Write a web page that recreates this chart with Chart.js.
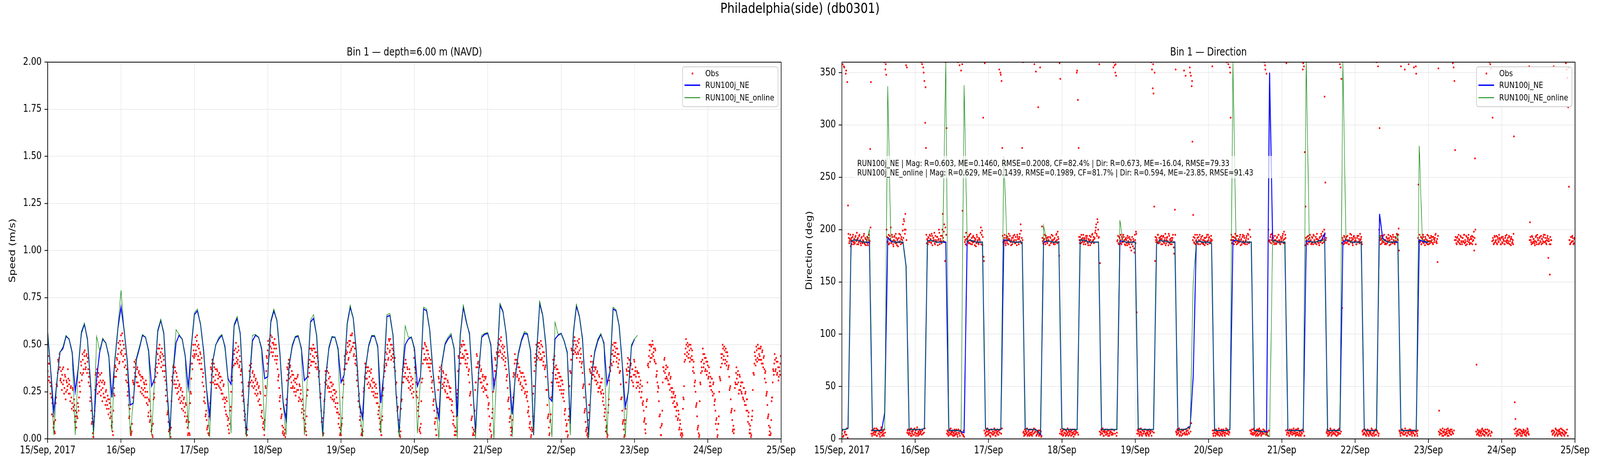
<!DOCTYPE html>
<html>
<head>
<meta charset="utf-8">
<script src="https://cdn.jsdelivr.net/npm/chart.js@4.4.1/dist/chart.umd.min.js"></script>
<style>
  html, body { margin: 0; background: #fff; overflow: hidden; }
  #page { position: absolute; left: 0; top: 0; width: 5000px; height: 1200px; transform-origin: 0 0; }
  #sup { position: absolute; left: 0; top: 0; width: 5000px; text-align: center; font: 36px/42px 'DejaVu Sans', sans-serif; color: #000; z-index: 2; }
  canvas { position: absolute; top: 0; }
</style>
</head>
<body>
<div id="page">
  <div id="sup">Philadelphia(side) (db0301)</div>
  <canvas id="speed" width="2500" height="1200" style="left:0;width:2500px;height:1200px"></canvas>
  <canvas id="dir" width="2500" height="1200" style="left:2500px;width:2500px;height:1200px"></canvas>
</div>
<script>
const FONT = "'DejaVu Sans', sans-serif";

// hours since 15/Sep 00:00 -> one label per day
const dayLabels = ['15/Sep, 2017', '16/Sep', '17/Sep', '18/Sep', '19/Sep', '20/Sep', '21/Sep', '22/Sep', '23/Sep', '24/Sep', '25/Sep'];
const speedTicks = [0, 0.25, 0.5, 0.75, 1, 1.25, 1.5, 1.75, 2];
const dirTicks = [0, 50, 100, 150, 200, 250, 300, 350];

const statsLines = [
  'RUN100j_NE | Mag: R=0.603, ME=0.1460, RMSE=0.2008, CF=82.4% | Dir: R=0.673, ME=-16.04, RMSE=79.33',
  'RUN100j_NE_online | Mag: R=0.629, ME=0.1439, RMSE=0.1989, CF=81.7% | Dir: R=0.594, ME=-23.85, RMSE=91.43',
];

// observed speed (m/s), every 15 min from 15/Sep 00:00
const obsSpeed = [
  0.36,0.40,0.33,0.30, 0.28,0.22,0.19,0.12, 0.08,0.04,0.10,0.22, 0.29,0.35,0.41,0.43,
  0.38,0.32,0.30,0.34, 0.29,0.31,0.27,0.33, 0.25,0.30,0.28,0.32, 0.29,0.24,0.27,0.22,
  0.19,0.26,0.15,0.18, 0.12,0.09,0.14,0.11, 0.17,0.22,0.28,0.35, 0.39,0.34,0.42,0.37,
  0.44,0.40,0.38,0.45, 0.41,0.37,0.33,0.28, 0.22,0.15,0.09,0.03, 0.01,0.12,0.26,0.35,
  0.31,0.29,0.33,0.30, 0.28,0.31,0.26,0.30, 0.27,0.24,0.29,0.22, 0.25,0.20,0.18,0.21,
  0.16,0.19,0.14,0.12, 0.06,0.04,0.15,0.27, 0.33,0.38,0.36,0.42, 0.45,0.48,0.41,0.50,
  0.55,0.47,0.52,0.44, 0.48,0.42,0.39,0.34, 0.30,0.25,0.18,0.12, 0.06,0.02,0.04,0.22,
  0.30,0.38,0.35,0.40, 0.33,0.37,0.30,0.35, 0.28,0.34,0.31,0.27, 0.33,0.26,0.30,0.27,
  0.25,0.29,0.22,0.18, 0.14,0.20,0.10,0.12, 0.05,0.02,0.08,0.24, 0.30,0.36,0.40,0.38,
  0.45,0.42,0.48,0.44, 0.46,0.41,0.45,0.39, 0.42,0.36,0.31,0.26, 0.20,0.14,0.09,0.05,
  0.03,0.01,0.20,0.33, 0.38,0.35,0.31,0.36, 0.29,0.33,0.27,0.25, 0.28,0.22,0.26,0.20,
  0.23,0.19,0.21,0.17, 0.14,0.18,0.10,0.06, 0.03,0.09,0.02,0.25, 0.32,0.40,0.44,0.47,
  0.45,0.50,0.47,0.52, 0.49,0.44,0.48,0.42, 0.45,0.40,0.37,0.33, 0.28,0.22,0.19,0.13,
  0.10,0.06,0.03,0.02, 0.15,0.30,0.37,0.40, 0.36,0.33,0.38,0.31, 0.34,0.29,0.36,0.32,
  0.28,0.33,0.30,0.26, 0.31,0.24,0.28,0.22, 0.19,0.15,0.22,0.12, 0.10,0.05,0.08,0.15,
  0.25,0.33,0.38,0.42, 0.45,0.40,0.48,0.43, 0.46,0.42,0.47,0.39, 0.41,0.36,0.30,0.25,
  0.20,0.15,0.12,0.06, 0.04,0.02,0.18,0.30, 0.36,0.33,0.38,0.31, 0.35,0.30,0.33,0.28,
  0.31,0.26,0.29,0.24, 0.27,0.21,0.25,0.18, 0.14,0.11,0.08,0.05, 0.10,0.28,0.36,0.43,
  0.47,0.50,0.45,0.52, 0.55,0.48,0.51,0.46, 0.50,0.53,0.44,0.48, 0.42,0.37,0.33,0.27,
  0.22,0.16,0.12,0.07, 0.04,0.02,0.03,0.01, 0.18,0.31,0.37,0.40, 0.35,0.38,0.33,0.30,
  0.34,0.28,0.31,0.27, 0.30,0.25,0.29,0.33, 0.26,0.22,0.28,0.24, 0.20,0.16,0.18,0.13,
  0.10,0.06,0.04,0.12, 0.26,0.33,0.38,0.42, 0.45,0.41,0.47,0.44, 0.48,0.43,0.46,0.40,
  0.44,0.38,0.41,0.35, 0.29,0.22,0.15,0.09, 0.05,0.03,0.20,0.30, 0.34,0.31,0.36,0.28,
  0.32,0.27,0.30,0.25, 0.28,0.23,0.26,0.21, 0.24,0.19,0.22,0.16, 0.14,0.11,0.06,0.03,
  0.02,0.08,0.22,0.31, 0.37,0.42,0.40,0.45, 0.46,0.49,0.43,0.50, 0.52,0.47,0.55,0.49,
  0.51,0.45,0.48,0.42, 0.39,0.34,0.28,0.23, 0.17,0.12,0.07,0.03, 0.02,0.14,0.27,0.33,
  0.38,0.35,0.32,0.36, 0.30,0.33,0.29,0.35, 0.31,0.27,0.30,0.25, 0.28,0.24,0.27,0.22,
  0.19,0.15,0.11,0.08, 0.04,0.02,0.12,0.26, 0.33,0.38,0.42,0.40, 0.45,0.48,0.43,0.52,
  0.47,0.50,0.44,0.48, 0.45,0.41,0.43,0.36, 0.30,0.22,0.16,0.10, 0.05,0.02,0.04,0.20,
  0.30,0.36,0.33,0.38, 0.35,0.40,0.32,0.37, 0.33,0.30,0.35,0.28, 0.31,0.27,0.29,0.25,
  0.47,0.35,0.30,0.25, 0.22,0.17,0.12,0.04, 0.03,0.20,0.32,0.40, 0.48,0.45,0.50,0.43,
  0.47,0.42,0.45,0.40, 0.38,0.42,0.33,0.30, 0.25,0.20,0.15,0.09, 0.05,0.02,0.14,0.26,
  0.32,0.36,0.30,0.37, 0.33,0.29,0.35,0.30, 0.26,0.32,0.28,0.24, 0.30,0.22,0.27,0.25,
  0.21,0.18,0.14,0.10, 0.07,0.04,0.02,0.12, 0.24,0.36,0.43,0.40, 0.46,0.43,0.49,0.45,
  0.50,0.44,0.47,0.42, 0.45,0.40,0.43,0.36, 0.30,0.24,0.18,0.11, 0.06,0.03,0.02,0.15,
  0.30,0.38,0.44,0.40, 0.35,0.38,0.32,0.36, 0.30,0.33,0.28,0.31, 0.27,0.32,0.26,0.29,
  0.22,0.18,0.12,0.07, 0.04,0.02,0.14,0.25, 0.31,0.36,0.42,0.39, 0.45,0.48,0.46,0.50,
  0.47,0.52,0.49,0.45, 0.48,0.44,0.46,0.41, 0.37,0.33,0.27,0.21, 0.16,0.11,0.06,0.04,
  0.05,0.22,0.35,0.40, 0.42,0.37,0.40,0.34, 0.38,0.32,0.36,0.30, 0.33,0.28,0.35,0.27,
  0.31,0.25,0.29,0.23, 0.20,0.15,0.12,0.08, 0.05,0.02,0.04,0.12, 0.28,0.36,0.41,0.45,
  0.47,0.44,0.49,0.46, 0.48,0.45,0.50,0.43, 0.46,0.41,0.44,0.38, 0.33,0.26,0.18,0.12,
  0.06,0.03,0.10,0.22, 0.30,0.35,0.40,0.42, 0.38,0.34,0.37,0.32, 0.35,0.30,0.33,0.28,
  0.31,0.26,0.29,0.24, 0.20,0.15,0.10,0.07, 0.04,0.02,0.12,0.28, 0.36,0.42,0.47,0.45,
  0.50,0.47,0.52,0.48, 0.45,0.49,0.46,0.51, 0.47,0.43,0.45,0.40, 0.35,0.28,0.22,0.15,
  0.09,0.05,0.02,0.01, 0.14,0.29,0.36,0.41, 0.38,0.34,0.40,0.36, 0.33,0.37,0.31,0.35,
  0.30,0.27,0.33,0.28, 0.25,0.30,0.26,0.22, 0.18,0.14,0.10,0.06, 0.03,0.02,0.18,0.31,
  0.37,0.42,0.40,0.45, 0.47,0.44,0.49,0.46, 0.48,0.43,0.45,0.40, 0.42,0.36,0.29,0.22,
  0.15,0.09,0.05,0.02, 0.10,0.30,0.36,0.40, 0.38,0.42,0.35,0.39, 0.33,0.37,0.30,0.34,
  0.41,0.36,0.33,0.30, 0.35,0.30,0.33,0.27, 0.31,0.22,0.28,0.18, 0.15,0.10,0.05,0.08,
  0.20,0.30,0.40,0.44, 0.47,0.43,0.49,0.45, 0.50,0.46,0.42,0.48, 0.40,0.34,0.30,0.28,
  0.20,0.12,0.06,0.02, 0.08,0.30,0.38,0.42, 0.35,0.37,0.33,0.38, 0.31,0.34,0.29,0.32,
  0.27,0.25,0.22,0.24, 0.20,0.22,0.17,0.15, 0.18,0.11,0.13,0.06, 0.08,0.03,0.01,0.02,
  0.22,0.28,0.45,0.48, 0.50,0.46,0.49,0.45, 0.47,0.43,0.48,0.44, 0.42,0.38,0.35,0.30,
  0.25,0.18,0.12,0.06, 0.03,0.02,0.30,0.35, 0.38,0.42,0.45,0.40, 0.43,0.37,0.41,0.36,
  0.39,0.33,0.35,0.30, 0.28,0.32,0.25,0.29, 0.24,0.20,0.15,0.10, 0.05,0.02,0.08,0.25,
  0.32,0.38,0.43,0.45, 0.48,0.44,0.47,0.42, 0.46,0.41,0.44,0.38, 0.33,0.27,0.21,0.15,
  0.10,0.05,0.03,0.15, 0.30,0.35,0.32,0.34, 0.30,0.26,0.33,0.28, 0.25,0.30,0.22,0.27,
  0.20,0.24,0.18,0.21, 0.15,0.12,0.08,0.05, 0.03,0.02,0.12,0.26, 0.35,0.40,0.44,0.42,
  0.47,0.43,0.48,0.45, 0.44,0.48,0.42,0.46, 0.40,0.43,0.37,0.35, 0.30,0.24,0.18,0.12,
  0.07,0.04,0.02,0.10, 0.22,0.30,0.36,0.40, 0.42,0.37,0.41,0.35, 0.38,0.33,0.36,0.40,
];

// observed speed (m/s), the readings 7.5 min after each of the above
const obsSpeedMid = [
  0.44,0.31,0.40,0.24, 0.30,0.13,0.21,0.06, 0.09,0.03,0.19,0.29, 0.28,0.42,0.37,0.45,
  0.31,0.36,0.26,0.37, 0.38,0.24,0.34,0.21, 0.31,0.26,0.37,0.24, 0.31,0.20,0.28,0.16,
  0.27,0.17,0.21,0.09, 0.15,0.06,0.12,0.19, 0.15,0.30,0.25,0.41, 0.31,0.45,0.35,0.46,
  0.47,0.37,0.44,0.35, 0.43,0.30,0.35,0.20, 0.22,0.08,0.11,0.01, 0.09,0.15,0.34,0.28,
  0.37,0.24,0.35,0.25, 0.34,0.23,0.35,0.20, 0.31,0.22,0.30,0.18, 0.26,0.16,0.23,0.13,
  0.21,0.11,0.17,0.07, 0.09,0.02,0.24,0.23, 0.39,0.33,0.43,0.37, 0.51,0.40,0.52,0.46,
  0.45,0.56,0.41,0.50, 0.38,0.45,0.31,0.37, 0.23,0.28,0.11,0.16, 0.05,0.03,0.08,0.31,
  0.29,0.41,0.33,0.42, 0.30,0.38,0.28,0.36, 0.34,0.25,0.33,0.24, 0.32,0.23,0.29,0.22,
  0.31,0.19,0.25,0.12, 0.21,0.09,0.15,0.04, 0.07,0.01,0.21,0.22, 0.37,0.33,0.46,0.35,
  0.48,0.40,0.50,0.43, 0.38,0.48,0.36,0.44, 0.33,0.39,0.23,0.29, 0.13,0.15,0.04,0.08,
  0.05,0.06,0.31,0.30, 0.39,0.29,0.38,0.27, 0.35,0.24,0.31,0.21, 0.29,0.19,0.27,0.16,
  0.25,0.15,0.22,0.12, 0.19,0.09,0.12,0.02, 0.09,0.03,0.19,0.24, 0.40,0.37,0.50,0.43,
  0.44,0.54,0.45,0.55, 0.42,0.50,0.40,0.46, 0.37,0.43,0.30,0.35, 0.20,0.25,0.12,0.15,
  0.05,0.07,0.03,0.12, 0.19,0.38,0.34,0.42, 0.30,0.40,0.29,0.37, 0.27,0.37,0.29,0.34,
  0.35,0.27,0.33,0.24, 0.31,0.21,0.29,0.17, 0.21,0.13,0.20,0.07, 0.11,0.03,0.15,0.17,
  0.33,0.31,0.45,0.39, 0.47,0.40,0.51,0.41, 0.40,0.49,0.38,0.44, 0.34,0.37,0.23,0.26,
  0.21,0.10,0.13,0.03, 0.06,0.05,0.28,0.29, 0.39,0.30,0.40,0.28, 0.36,0.27,0.34,0.24,
  0.32,0.23,0.30,0.20, 0.28,0.18,0.24,0.12, 0.15,0.06,0.09,0.02, 0.23,0.27,0.44,0.40,
  0.52,0.44,0.53,0.49, 0.46,0.54,0.44,0.51, 0.48,0.42,0.50,0.40, 0.44,0.31,0.34,0.20,
  0.23,0.11,0.13,0.03, 0.06,0.02,0.05,0.13, 0.21,0.38,0.34,0.42, 0.32,0.39,0.27,0.36,
  0.27,0.34,0.25,0.32, 0.23,0.32,0.26,0.34, 0.20,0.29,0.21,0.26, 0.14,0.21,0.11,0.15,
  0.05,0.08,0.02,0.23, 0.26,0.40,0.35,0.48, 0.39,0.48,0.41,0.50, 0.41,0.48,0.38,0.46,
  0.37,0.43,0.33,0.36, 0.22,0.24,0.09,0.11, 0.02,0.14,0.21,0.36, 0.29,0.38,0.27,0.35,
  0.25,0.33,0.22,0.30, 0.21,0.29,0.20,0.26, 0.17,0.25,0.14,0.19, 0.08,0.13,0.02,0.05,
  0.07,0.11,0.31,0.29, 0.44,0.37,0.47,0.40, 0.51,0.42,0.52,0.46, 0.55,0.48,0.56,0.49,
  0.44,0.51,0.40,0.44, 0.31,0.36,0.20,0.24, 0.10,0.14,0.02,0.05, 0.04,0.25,0.26,0.40,
  0.32,0.38,0.29,0.38, 0.27,0.36,0.28,0.37, 0.25,0.32,0.23,0.30, 0.22,0.29,0.19,0.24,
  0.13,0.17,0.05,0.09, 0.02,0.10,0.23,0.27, 0.39,0.36,0.46,0.39, 0.50,0.42,0.53,0.46,
  0.53,0.42,0.50,0.43, 0.47,0.38,0.43,0.29, 0.30,0.15,0.17,0.04, 0.06,0.01,0.16,0.21,
  0.37,0.30,0.40,0.33, 0.42,0.32,0.38,0.31, 0.27,0.37,0.26,0.33, 0.24,0.32,0.22,0.43,
  0.38,0.37,0.23,0.29, 0.15,0.19,0.05,0.06, 0.08,0.30,0.32,0.48, 0.42,0.51,0.42,0.49,
  0.40,0.47,0.38,0.43, 0.36,0.40,0.27,0.31, 0.18,0.21,0.08,0.11, 0.02,0.11,0.16,0.33,
  0.30,0.38,0.30,0.39, 0.27,0.36,0.28,0.32, 0.25,0.34,0.22,0.31, 0.22,0.28,0.21,0.27,
  0.15,0.20,0.08,0.12, 0.02,0.06,0.04,0.22, 0.26,0.44,0.37,0.48, 0.40,0.50,0.43,0.52,
  0.43,0.50,0.40,0.47, 0.38,0.45,0.34,0.37, 0.23,0.25,0.10,0.12, 0.02,0.05,0.04,0.26,
  0.30,0.45,0.38,0.41, 0.32,0.39,0.30,0.37, 0.27,0.34,0.25,0.33, 0.26,0.33,0.23,0.29,
  0.16,0.19,0.05,0.08, 0.01,0.11,0.16,0.32, 0.29,0.43,0.36,0.46, 0.43,0.51,0.44,0.53,
  0.46,0.54,0.43,0.50, 0.42,0.49,0.39,0.43, 0.31,0.34,0.20,0.22, 0.09,0.12,0.02,0.06,
  0.10,0.33,0.34,0.45, 0.35,0.42,0.33,0.40, 0.31,0.38,0.29,0.35, 0.26,0.35,0.27,0.33,
  0.24,0.31,0.22,0.25, 0.14,0.17,0.06,0.09, 0.01,0.06,0.05,0.24, 0.28,0.43,0.39,0.50,
  0.42,0.51,0.43,0.51, 0.42,0.52,0.42,0.49, 0.39,0.46,0.37,0.39, 0.26,0.26,0.11,0.13,
  0.02,0.09,0.13,0.30, 0.28,0.42,0.37,0.44, 0.32,0.39,0.30,0.37, 0.28,0.35,0.26,0.33,
  0.24,0.31,0.22,0.26, 0.13,0.16,0.04,0.08, 0.01,0.10,0.16,0.36, 0.35,0.48,0.42,0.52,
  0.45,0.54,0.46,0.50, 0.43,0.52,0.45,0.53, 0.41,0.48,0.38,0.41, 0.27,0.29,0.14,0.16,
  0.04,0.06,0.03,0.10, 0.18,0.37,0.35,0.44, 0.32,0.41,0.34,0.38, 0.31,0.38,0.29,0.36,
  0.25,0.34,0.27,0.30, 0.24,0.32,0.20,0.24, 0.12,0.16,0.04,0.07, 0.01,0.14,0.21,0.38,
  0.36,0.45,0.39,0.50, 0.41,0.51,0.44,0.51, 0.41,0.48,0.38,0.45, 0.35,0.36,0.21,0.22,
  0.08,0.10,0.01,0.08, 0.16,0.37,0.34,0.43, 0.36,0.42,0.33,0.40, 0.31,0.37,0.28,0.42,
  0.34,0.38,0.27,0.36, 0.28,0.35,0.25,0.29, 0.22,0.25,0.19,0.20, 0.09,0.11,0.03,0.17,
  0.21,0.39,0.38,0.50, 0.41,0.50,0.43,0.52, 0.44,0.48,0.41,0.47, 0.33,0.36,0.25,0.27,
  0.12,0.13,0.02,0.07, 0.15,0.38,0.36,0.43, 0.32,0.39,0.32,0.38, 0.29,0.35,0.26,0.33,
  0.22,0.27,0.19,0.25, 0.17,0.23,0.12,0.19, 0.10,0.15,0.05,0.10, 0.02,0.05,0.03,0.16,
  0.21,0.41,0.42,0.53, 0.44,0.51,0.43,0.50, 0.41,0.50,0.42,0.47, 0.36,0.41,0.28,0.31,
  0.17,0.19,0.05,0.07, 0.01,0.20,0.29,0.41, 0.36,0.48,0.38,0.45, 0.36,0.43,0.34,0.41,
  0.32,0.38,0.28,0.33, 0.26,0.32,0.23,0.30, 0.18,0.21,0.08,0.11, 0.01,0.08,0.12,0.33,
  0.31,0.45,0.40,0.50, 0.42,0.49,0.40,0.48, 0.39,0.46,0.37,0.39, 0.26,0.28,0.14,0.16,
  0.04,0.07,0.05,0.27, 0.29,0.38,0.29,0.36, 0.24,0.34,0.26,0.30, 0.24,0.30,0.21,0.27,
  0.18,0.25,0.15,0.21, 0.09,0.14,0.03,0.07, 0.01,0.10,0.15,0.35, 0.34,0.46,0.39,0.49,
  0.41,0.50,0.42,0.48, 0.42,0.49,0.40,0.47, 0.38,0.44,0.32,0.36, 0.23,0.25,0.11,0.13,
  0.02,0.06,0.03,0.20, 0.22,0.37,0.34,0.45, 0.36,0.43,0.34,0.41, 0.31,0.38,0.34,0.44,
];

// model speed (m/s), hourly from 15/Sep 00:00
const runSpeed = [
  0.56,0.36,0.14,0.30,0.46,0.48,0.545,0.53,0.46,0.25,
  0.375,0.56,0.61,0.53,0.30,0.04,0.32,0.46,0.53,0.51,
  0.44,0.22,0.42,0.59,0.70,0.58,0.42,0.18,0.19,0.42,
  0.48,0.55,0.54,0.47,0.28,0.32,0.57,0.63,0.56,0.27,
  0.04,0.35,0.51,0.55,0.53,0.44,0.27,0.49,0.66,0.68,
  0.61,0.47,0.26,0.12,0.41,0.50,0.53,0.55,0.49,0.32,
  0.29,0.60,0.64,0.56,0.25,0.02,0.31,0.52,0.55,0.54,
  0.48,0.32,0.33,0.62,0.68,0.63,0.45,0.20,0.10,0.39,
  0.49,0.54,0.545,0.48,0.31,0.33,0.62,0.64,0.55,0.27,
  0.02,0.33,0.48,0.54,0.54,0.48,0.30,0.34,0.61,0.70,
  0.64,0.46,0.19,0.11,0.375,0.49,0.545,0.545,0.49,0.19,
  0.35,0.65,0.655,0.55,0.24,0.03,0.33,0.50,0.53,0.54,
  0.48,0.28,0.33,0.69,0.68,0.58,0.37,0.20,0.11,0.40,
  0.50,0.53,0.55,0.48,0.12,0.55,0.70,0.62,0.56,0.30,
  0.03,0.35,0.54,0.555,0.56,0.50,0.27,0.38,0.71,0.675,
  0.56,0.35,0.13,0.33,0.45,0.52,0.56,0.555,0.47,0.02,
  0.46,0.72,0.655,0.50,0.22,0.20,0.53,0.55,0.56,0.52,
  0.46,0.08,0.56,0.705,0.65,0.53,0.25,0.01,0.34,0.46,
  0.52,0.555,0.51,0.29,0.36,0.69,0.68,0.60,0.40,0.17,
  0.25,0.49,0.53,
];

const onlineSpeed = [
  0.57,0.35,0.02,0.31,0.46,0.49,0.55,0.53,0.45,0.02,
  0.38,0.57,0.615,0.52,0.29,0.01,0.545,0.47,0.535,0.51,
  0.43,0.04,0.43,0.60,0.79,0.58,0.41,0.02,0.20,0.43,
  0.49,0.555,0.54,0.46,0.02,0.33,0.58,0.635,0.55,0.26,
  0.00,0.36,0.58,0.555,0.53,0.43,0.05,0.50,0.67,0.69,
  0.61,0.46,0.25,0.01,0.42,0.50,0.54,0.555,0.48,0.31,
  0.03,0.61,0.65,0.55,0.24,0.01,0.32,0.55,0.555,0.54,
  0.47,0.04,0.34,0.63,0.69,0.63,0.44,0.19,0.02,0.40,
  0.50,0.545,0.55,0.47,0.02,0.34,0.63,0.66,0.55,0.26,
  0.01,0.34,0.49,0.545,0.54,0.47,0.02,0.35,0.62,0.71,
  0.64,0.45,0.18,0.01,0.38,0.50,0.55,0.55,0.48,0.03,
  0.36,0.66,0.665,0.55,0.23,0.01,0.34,0.60,0.54,0.54,
  0.47,0.03,0.34,0.70,0.69,0.58,0.36,0.19,0.00,0.41,
  0.51,0.54,0.56,0.47,0.00,0.56,0.71,0.63,0.55,0.29,
  0.00,0.36,0.55,0.56,0.565,0.49,0.00,0.39,0.72,0.68,
  0.56,0.34,0.01,0.34,0.46,0.53,0.57,0.56,0.46,0.02,
  0.47,0.73,0.66,0.49,0.21,0.01,0.62,0.555,0.56,0.52,
  0.45,0.02,0.57,0.715,0.655,0.52,0.24,0.00,0.35,0.47,
  0.53,0.56,0.50,0.02,0.37,0.70,0.685,0.60,0.39,0.01,
  0.26,0.50,0.53,0.55,
];

// observed direction (deg), every 15 min from 15/Sep 00:00
const obsDir = [
  5,358,3,355, 7,349,4,341, 223,192,189,195, 190,186,193,188,
  191,187,194,189, 186,192,188,195, 190,185,193,187, 189,196,186,191,
  188,193,185,190, 187,277,341,8, 5,9,4,7, 6,10,3,8,
  5,7,2,9, 6,4,8,3, 360,353,348,193, 189,195,187,191,
  202,188,193,186, 190,194,187,192, 185,191,188,196, 189,186,193,190,
  205,210,200,215, 357,355,8,5, 6,9,3,7, 5,8,4,10,
  6,3,9,5, 7,4,8,6, 360,358,5,350, 342,302,278,187,
  190,193,188,195, 191,187,194,189, 192,197,186,190, 188,193,190,200,
  186,191,189,194, 215,189,205,170, 360,297,8,4, 6,9,5,7,
  4,8,6,3, 7,5,9,4, 360,6,357,8, 352,5,218,3,
  2,188,186,191, 189,193,187,195, 190,186,192,188, 194,189,185,191,
  187,193,190,186, 191,188,202,195, 185,307,170,359, 6,9,4,7,
  5,8,3,6, 9,4,7,5, 6,3,8,5, 7,4,353,9,
  348,342,278,188, 190,195,187,192, 189,193,186,191, 194,188,190,186,
  192,189,195,187, 190,185,193,188, 191,196,205,187, 278,360,7,5,
  4,8,6,3, 7,5,9,4, 6,3,8,5, 358,7,351,4,
  6,317,3,8, 5,2,203,189, 186,191,188,194, 190,187,193,189,
  185,192,188,190, 194,187,191,186, 189,196,187,193, 188,359,344,7,
  5,8,4,6, 9,3,7,5, 6,8,4,7, 3,6,9,5,
  7,4,8,6, 352,324,278,190, 193,187,191,189, 195,188,192,186,
  190,194,187,191, 189,185,193,188, 196,190,187,192, 199,205,194,207,
  192,358,168,6, 8,5,7,3, 6,9,4,7, 5,8,3,6,
  7,4,9,5, 360,357,350,347, 6,190,187,193, 189,195,186,191,
  188,193,190,185, 192,187,194,189, 186,191,188,180, 193,184,189,178,
  190,198,121,8, 5,9,4,7, 6,3,8,5, 7,9,4,6,
  5,8,3,7, 6,360,353,335, 330,222,170,190, 192,188,195,187,
  190,193,186,191, 189,194,187,192, 185,190,193,188, 196,187,191,189,
  186,192,188,177, 219,353,6,9, 5,8,3,7, 6,9,4,8,
  352,5,347,7, 4,8,6,10, 350,347,337,284, 214,188,192,186,
  190,195,187,193, 189,186,191,188, 194,187,190,185, 192,188,195,186,
  190,193,187,191, 189,356,5,8, 6,3,9,5, 7,4,8,6,
  5,9,3,7, 8,4,6,10, 360,5,358,7, 355,307,195,190,
  187,193,189,196, 191,186,194,188, 190,193,185,191, 188,195,187,192,
  186,190,194,188, 191,187,200,193, 7,5,9,4, 8,6,3,7,
  5,9,4,8, 6,3,7,5, 9,360,357,4, 349,6,3,8,
  190,193,187,196, 189,192,186,194, 190,187,193,188, 195,189,186,191,
  188,194,190,198, 187,192,359,6, 8,5,3,7, 6,9,4,8,
  5,7,3,6, 9,4,8,5, 7,3,6,9, 359,356,274,222,
  189,193,186,191, 188,195,190,187, 192,186,194,189, 187,191,196,188,
  190,185,193,189, 194,187,191,188, 327,245,192,7, 5,8,4,6,
  9,3,7,5, 6,8,4,7, 3,6,9,5, 358,355,344,125,
  190,186,193,188, 191,187,194,189, 186,192,188,195, 190,185,193,188,
  192,189,186,194, 188,191,187,190, 193,186,8,5, 6,9,4,7,
  5,8,3,6, 7,4,9,5, 6,3,8,4, 360,7,356,5,
  297,190,194,187, 192,188,195,186, 190,193,187,191, 189,185,194,188,
  191,187,193,189, 186,192,188,195, 190,201,8,5, 356,6,9,4,
  7,353,5,8, 3,6,358,9, 4,7,5,8, 6,355,3,7,
  349,5,8,243, 190,188,193,186, 191,195,187,189, 193,188,190,186,
  194,189,187,192, 188,193,186,191, 190,195,188,187, 169,354,27,6,
  5,8,3,7, 6,9,4,5, 7,3,8,6, 5,9,4,7,
  359,355,342,276, 190,186,193,188, 191,187,194,189, 186,192,188,195,
  190,185,193,189, 192,188,186,191, 187,194,189,190, 180,268,186,71,
  5,8,4,7, 6,3,9,5, 8,4,7,6, 5,9,3,7,
  360,358,354,6, 307,190,187,193, 189,194,186,191, 188,192,190,186,
  193,187,191,189, 186,194,188,190, 192,187,193,189, 185,191,188,186,
  289,35,19,7, 5,8,4,6, 9,3,7,5, 6,8,4,7,
  3,6,9,5, 356,207,190,186, 193,188,191,187, 189,194,186,192,
  190,187,193,188, 186,191,189,195, 188,192,187,190, 194,173,189,157,
  186,190,8,5, 356,7,4,9, 6,3,8,5, 7,4,6,9,
  5,8,3,6, 359,353,345,317, 241,190,187,193, 189,192,186,191,
];

// observed direction (deg), the readings 7.5 min after each of the above
const obsDirMid = [
  8,2,356,6, 4,352,10,1, 196,187,191,184, 192,189,195,186,
  188,193,190,197, 191,186,194,189, 187,192,188,190, 194,187,192,185,
  190,187,192,195, 189,202,5,3, 8,6,10,4, 7,3,9,5,
  8,4,6,11, 3,7,5,9, 6,358,200,188, 192,186,194,190,
  187,195,189,184, 193,189,196,187, 190,184,192,188, 195,191,187,199,
  192,208,196,200, 190,6,9,4, 8,5,10,3, 7,9,4,6,
  8,5,11,3, 6,9,5,7, 4,8,355,6, 10,336,195,191,
  186,192,189,194, 188,196,185,192, 190,187,194,189, 193,185,191,197,
  189,194,187,200, 192,198,188,202, 195,5,7,3, 8,4,10,6,
  7,3,5,9, 4,8,6,2, 9,5,3,7, 6,358,4,8,
  193,190,197,185, 191,188,194,187, 196,189,186,193, 188,192,190,184,
  195,189,187,192, 190,197,186,199, 193,174,8,5, 3,7,10,4,
  8,6,2,9, 5,7,4,10, 8,3,6,9, 4,8,6,350,
  5,10,194,186, 192,189,185,194, 187,191,196,190, 189,185,192,188,
  194,190,187,193, 188,195,191,186, 193,189,199,192, 190,6,3,9,
  7,5,10,4, 8,3,6,9, 4,7,5,10, 6,9,3,7,
  5,8,4,355, 7,3,192,187, 190,195,186,192, 188,192,190,185,
  193,187,195,189, 190,186,192,188, 195,190,198,191, 175,5,9,4,
  7,3,9,6, 5,8,4,10, 3,7,5,9, 8,4,6,2,
  9,5,7,350, 6,4,193,187, 190,195,188,192, 186,191,189,194,
  192,188,185,190, 194,190,187,195, 189,193,191,197, 202,196,210,200,
  193,7,4,9, 5,10,3,8, 7,4,6,9, 3,8,5,7,
  9,6,4,355, 8,5,358,3, 189,194,186,192, 190,187,193,188,
  195,189,186,191, 190,185,192,187, 193,183,190,186, 188,191,182,195,
  187,196,5,9, 7,3,6,10, 4,8,5,7, 9,5,3,8,
  6,4,9,5, 8,3,7,358, 6,350,193,188, 190,195,187,192,
  188,191,194,186, 193,188,190,196, 187,192,189,185, 194,190,186,192,
  190,195,183,188, 195,7,4,8, 6,10,4,7, 3,8,5,9,
  6,4,9,5, 8,11,5,355, 7,15,342,190, 193,187,195,189,
  188,192,186,190, 195,189,193,187, 190,186,192,189, 187,193,189,195,
  192,187,189,194, 190,8,3,6, 9,5,7,4, 6,10,3,8,
  4,7,5,9, 6,3,8,5, 9,7,4,6, 350,190,187,193,
  190,186,192,188, 194,189,187,191, 188,195,190,186, 193,189,194,187,
  189,192,186,196, 195,188,8,5, 9,4,6,10, 5,7,4,9,
  3,7,10,5, 8,4,6,9, 5,8,353,6, 4,7,200,189,
  188,195,190,192, 194,188,190,187, 186,192,189,195, 190,187,193,189,
  192,196,187,191, 195,8,4,9, 6,3,9,5, 7,4,6,10,
  8,5,9,4, 6,10,3,7, 4,8,5,353, 7,3,185,192,
  190,187,194,188, 192,189,186,193, 188,195,190,187, 193,186,191,189,
  187,192,188,196, 190,198,194,200, 196,190,6,9, 3,7,5,10,
  6,4,8,5, 9,5,7,3, 8,4,6,10, 5,7,187,192,
  189,194,187,191, 193,188,190,186, 190,196,189,192, 187,191,194,189,
  190,186,192,188, 194,189,196,191, 188,7,4,9, 5,8,3,6,
  9,4,7,5, 6,10,3,8, 5,7,9,4, 8,6,3,200,
  192,186,191,189, 194,188,190,187, 186,192,189,195, 192,190,186,193,
  188,195,190,187, 193,189,196,191, 195,180,7,3, 6,9,5,7,
  4,10,6,3, 8,5,7,4, 9,6,3,7, 5,8,4,356,
  7,3,192,188, 195,189,186,192, 188,193,190,185, 191,187,195,189,
  186,192,189,194, 190,187,193,188, 192,196,189,191, 194,7,4,9,
  8,5,10,3, 7,4,6,9, 5,10,3,8, 7,4,9,6,
  5,8,190,193, 187,192,189,195, 190,186,193,188, 192,189,195,187,
  188,194,186,191, 195,190,187,193, 191,186,193,198, 192,200,7,4,
  9,6,3,8, 5,7,10,4, 7,3,9,5, 6,9,4,8,
  5,3,7,189, 192,186,194,188, 190,187,193,189, 195,191,186,192,
  188,193,190,186, 192,189,195,187, 189,194,186,191, 193,187,190,196,
  9,5,10,3, 7,4,9,6, 5,8,3,7, 9,6,4,8,
  5,10,7,4, 190,193,188,194, 187,191,189,185, 193,188,195,190,
  186,192,189,194, 191,187,193,188, 195,189,186,192, 189,191,186,193,
  190,7,4,8, 6,3,10,5, 8,4,7,9, 5,10,3,6,
  8,4,7,5, 6,9,3,355, 190,186,193,188, 194,189,187,192,
];

// model direction (deg), hourly from 15/Sep 00:00
const runDir = [
  9,9,10,189,190,190,189,188,188,188,
  8,8,8,8,25,192,189,188,188,188,
  188,165,9,9,9,9,9,10,189,190,
  189,188,188,188,188,8,8,8,8,7,
  6,189,190,189,188,188,188,10,9,9,
  9,9,9,190,190,189,188,188,188,188,
  10,9,9,9,8,4,188,189,189,188,
  188,188,10,9,9,9,9,9,190,190,
  189,188,188,188,188,9,9,9,9,9,
  9,189,189,188,188,188,188,10,9,9,
  9,9,9,186,190,189,189,188,188,188,
  9,9,9,10,12,60,188,189,188,188,
  188,187,8,8,8,8,8,9,189,190,
  189,188,188,188,188,8,8,7,7,7,
  350,190,189,188,188,188,8,8,8,8,
  8,8,189,189,188,188,189,190,196,8,
  8,8,8,8,188,190,189,188,188,188,
  188,9,8,8,8,8,215,192,189,188,
  188,188,188,8,8,8,8,8,8,190,
  189,188,188,
];

const onlineDir = [
  9,9,10,189,190,190,189,188,188,200,
  8,8,8,8,10,337,190,188,188,188,
  188,165,9,9,9,9,9,10,189,190,
  189,188,188,188,360,8,8,8,8,7,
  338,189,190,189,188,188,188,10,9,9,
  9,9,9,270,190,189,188,188,188,188,
  10,9,9,9,8,5,204,189,189,188,
  188,188,10,9,9,9,9,9,190,190,
  189,188,188,188,188,9,9,9,9,9,
  9,209,189,188,188,188,188,10,9,9,
  9,9,9,186,190,189,189,188,188,188,
  9,9,9,10,11,150,188,189,188,188,
  188,187,8,8,8,8,8,9,360,190,
  189,188,188,188,188,8,8,7,7,5,
  2,190,189,188,188,188,8,8,8,8,
  8,8,360,189,188,188,189,189,190,8,
  8,8,8,8,360,190,189,188,188,188,
  188,9,8,8,8,8,195,190,189,188,
  188,188,196,8,8,8,8,8,8,280,
  190,189,188,189,
];

function series(vals, step, offset = 0) {
  return vals.map((v, i) => ({ x: offset + i * step, y: v }));
}

// title, y label, frame, legend and the stats box, drawn on top of the data
function decor(cfg) {
  return {
    id: 'decor',
    afterDatasetsDraw(chart) {
      const { ctx, chartArea: a } = chart;
      const ds = chart.data.datasets;
      ctx.save();

      if (cfg.stats) {
        ctx.fillStyle = 'rgba(255,255,255,0.7)';
        ctx.fillRect(a.left + 36, a.top + 240, 1327, 57);
        ctx.fillStyle = '#000';
        ctx.font = '21px ' + FONT;
        ctx.textAlign = 'left';
        ctx.textBaseline = 'alphabetic';
        cfg.stats.forEach((line, i) => ctx.fillText(line, a.left + 48, a.top + 266 + i * 24));
      }

      ctx.strokeStyle = '#000';
      ctx.lineWidth = 2;
      ctx.strokeRect(a.left, a.top, a.right - a.left, a.bottom - a.top);

      const lw = 298, lh = 102;
      const lx = a.right - 10 - lw, ly = a.top + 12;
      ctx.beginPath();
      ctx.roundRect(lx, ly, lw, lh, 6);
      ctx.fillStyle = 'rgba(255,255,255,0.8)';
      ctx.fill();
      ctx.strokeStyle = '#cccccc';
      ctx.lineWidth = 2;
      ctx.stroke();
      ctx.font = '22px ' + FONT;
      ctx.textAlign = 'left';
      ctx.textBaseline = 'middle';
      const rows = [17, 47, 79];
      ds.forEach((d, i) => {
        const y = ly + rows[i];
        if (d.showLine) {
          ctx.strokeStyle = d.borderColor;
          ctx.lineWidth = d.borderWidth + 0.4;
          ctx.beginPath();
          ctx.moveTo(lx + 6, y);
          ctx.lineTo(lx + 55, y);
          ctx.stroke();
        } else {
          ctx.fillStyle = d.backgroundColor;
          ctx.beginPath();
          ctx.arc(lx + 31, y, 2.6, 0, Math.PI * 2);
          ctx.fill();
        }
        ctx.fillStyle = '#000';
        ctx.fillText(d.label, lx + 71, y + 1);
      });

      ctx.fillStyle = '#000';
      ctx.font = '27.5px ' + FONT;
      ctx.textAlign = 'center';
      ctx.textBaseline = 'alphabetic';
      ctx.fillText(cfg.title, (a.left + a.right) / 2, a.top - 17);

      ctx.translate(cfg.labelX, (a.top + a.bottom) / 2);
      ctx.rotate(-Math.PI / 2);
      ctx.font = '27px ' + FONT;
      ctx.textBaseline = 'middle';
      ctx.fillText(cfg.ylabel, 0, 0);
      ctx.restore();
    },
  };
}

function makeChart(id, cfg) {
  const grid = { color: '#e6e6e6', lineWidth: 1.5, tickColor: '#000', tickLength: 10, tickWidth: 2 };
  const border = { color: '#000', width: 2 };
  const obsPoints = series(cfg.obs, 0.25).concat(series(cfg.obsMid, 0.25, 0.125));
  return new Chart(document.getElementById(id), {
    type: 'scatter',
    data: {
      datasets: [
        {
          label: 'Obs', data: obsPoints, showLine: false,
          pointRadius: 2.5, pointBorderWidth: 0, backgroundColor: 'red', pointBackgroundColor: 'red',
          order: 3, clip: 0,
        },
        {
          label: 'RUN100j_NE', data: series(cfg.run, 1), showLine: true,
          pointRadius: 0, borderColor: '#0000ff', borderWidth: 3, order: 2, clip: 0,
        },
        {
          label: 'RUN100j_NE_online', data: series(cfg.online, 1), showLine: true,
          pointRadius: 0, borderColor: '#008000', borderWidth: 1.5, order: 1, clip: 0,
        },
      ],
    },
    options: {
      responsive: false,
      animation: false,
      devicePixelRatio: 1,
      events: [],
      layout: { padding: { top: 159, right: cfg.padRight, left: 0, bottom: 0 } },
      plugins: { legend: { display: false }, tooltip: { enabled: false } },
      scales: {
        x: {
          type: 'linear', min: 0, max: 240,
          afterBuildTicks: (s) => { s.ticks = dayLabels.map((_, i) => ({ value: i * 24 })); },
          afterFit: (s) => { s.height = 77; },
          ticks: {
            autoSkip: false, maxRotation: 0, minRotation: 0, padding: 5, color: '#000',
            font: { family: FONT, size: 26 },
            callback: (v) => dayLabels[Math.round(v / 24)],
          },
          grid, border,
        },
        y: {
          min: 0, max: cfg.yMax,
          afterBuildTicks: (s) => { s.ticks = cfg.yTicks.map((v) => ({ value: v })); },
          afterFit: (s) => { s.width = cfg.axisWidth; },
          ticks: { padding: 9, color: '#000', font: { family: FONT, size: 26 }, callback: cfg.fmt },
          grid, border,
        },
      },
    },
    plugins: [decor(cfg)],
  });
}

// the figure is laid out at 5000x1200; fit it to whatever window it is shown in
document.getElementById('page').style.transform =
  `scale(${window.innerWidth / 5000}, ${window.innerHeight / 1200})`;

makeChart('speed', {
  obs: obsSpeed, obsMid: obsSpeedMid, run: runSpeed, online: onlineSpeed,
  yMax: 2, yTicks: speedTicks, fmt: (v) => v.toFixed(2),
  axisWidth: 149, padRight: 59, labelX: 40,
  title: 'Bin 1 \u2014 depth=6.00 m (NAVD)', ylabel: 'Speed (m/s)',
});

makeChart('dir', {
  obs: obsDir, obsMid: obsDirMid, run: runDir, online: onlineDir,
  yMax: 360, yTicks: dirTicks, fmt: (v) => String(v),
  axisWidth: 131, padRight: 78, labelX: 30,
  title: 'Bin 1 \u2014 Direction', ylabel: 'Direction (deg)',
  stats: statsLines,
});
</script>
</body>
</html>
